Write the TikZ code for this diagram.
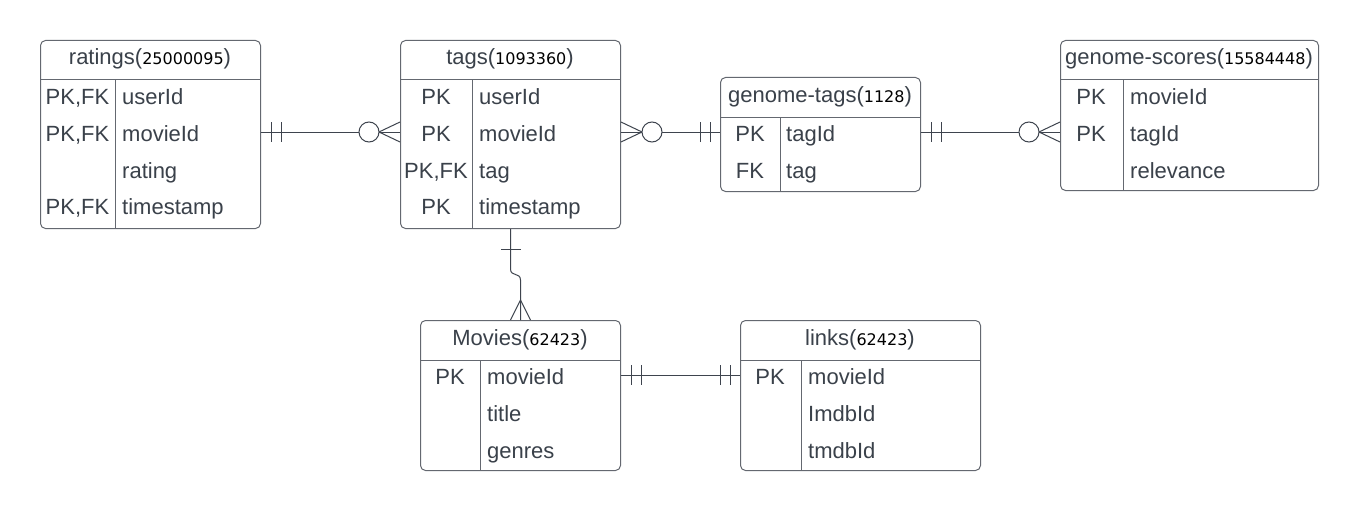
\documentclass[tikz,border=0pt]{standalone}
\usepackage{fontspec}
\setmainfont{Liberation Sans}
\newfontfamily\numfont{DejaVu Sans}
\usetikzlibrary{calc}
\definecolor{txt}{RGB}{58,65,74}
\definecolor{boxc}{RGB}{100,104,112}
\definecolor{linec}{RGB}{62,68,78}
\newcommand\cnt[1]{{\numfont\fontsize{16}{18}\selectfont\color{black}#1}}
\begin{document}
\begin{tikzpicture}[x=1pt,y=-1pt,
  tbl/.style={draw=boxc, line width=1pt, rounded corners=5pt, inner sep=0pt, anchor=north west, fill=white},
  sep/.style={draw=boxc, line width=1pt},
  hdr/.style={inner sep=0pt, anchor=base, text=txt, font=\fontsize{22}{26}\selectfont},
  key/.style={hdr},
  fld/.style={hdr, anchor=base west},
  conn/.style={draw=linec, line width=1pt},
  mandone/.pic={\draw[conn] (10,-10) -- (10,10); \draw[conn] (20,-10) -- (20,10);},
  onlyone/.pic={\draw[conn] (20,-10) -- (20,10);},
  many/.pic={\draw[conn] (0,-10) -- (20,0) -- (0,10); \draw[conn] (0,0) -- (20,0);},
  zeromany/.pic={\draw[conn] (0,-10) -- (21,0) -- (0,10); \draw[conn] (0,0) -- (21,0);
                 \draw[conn, fill=white] (31,0) circle[radius=10pt];},
]
\useasboundingbox[fill=white] (0,0) rectangle (1360,511);

% ratings
\node[tbl, minimum width=220pt, minimum height=188pt] (ratings) at (40,40) {};
\draw[sep] (40,80) -- (260,80);
\draw[sep] (115,80) -- (115,228);
\node[hdr] (ratingsT) at (150,65) {ratings(\cnt{25000095})};
\node[key] (r1k) at (77.5,104) {PK,FK};
\node[fld] (r1f) at (122,104) {userId};
\node[key] (r2k) at (77.5,141) {PK,FK};
\node[fld] (r2f) at (122,141) {movieId};
\node[fld] (r3f) at (122,178) {rating};
\node[key] (r4k) at (77.5,214) {PK,FK};
\node[fld] (r4f) at (122,214) {timestamp};

% tags
\node[tbl, minimum width=220pt, minimum height=188pt] (tags) at (400,40) {};
\draw[sep] (400,80) -- (620,80);
\draw[sep] (472,80) -- (472,228);
\node[hdr] (tagsT) at (510,65) {tags(\cnt{1093360})};
\node[key] (t1k) at (436,104) {PK};
\node[fld] (t1f) at (479,104) {userId};
\node[key] (t2k) at (436,141) {PK};
\node[fld] (t2f) at (479,141) {movieId};
\node[key] (t3k) at (436,178) {PK,FK};
\node[fld] (t3f) at (479,178) {tag};
\node[key] (t4k) at (436,214) {PK};
\node[fld] (t4f) at (479,214) {timestamp};

% genome-tags
\node[tbl, minimum width=200pt, minimum height=114pt] (gtags) at (720,77) {};
\draw[sep] (720,117) -- (920,117);
\draw[sep] (780,117) -- (780,191);
\node[hdr] (gtagsT) at (820,102) {genome-tags(\cnt{1128})};
\node[key] (g1k) at (750,141) {PK};
\node[fld] (g1f) at (786,141) {tagId};
\node[key] (g2k) at (750,178) {FK};
\node[fld] (g2f) at (786,178) {tag};

% genome-scores
\node[tbl, minimum width=258pt, minimum height=150pt] (gscores) at (1060,40) {};
\draw[sep] (1060,80) -- (1318,80);
\draw[sep] (1123,80) -- (1123,190);
\node[hdr] (gscoresT) at (1189,65) {genome-scores(\cnt{15584448})};
\node[key] (s1k) at (1091,104) {PK};
\node[fld] (s1f) at (1130,104) {movieId};
\node[key] (s2k) at (1091,141) {PK};
\node[fld] (s2f) at (1130,141) {tagId};
\node[fld] (s3f) at (1130,178) {relevance};

% Movies
\node[tbl, minimum width=200pt, minimum height=150pt] (movies) at (420,320) {};
\draw[sep] (420,360) -- (620,360);
\draw[sep] (480,360) -- (480,470);
\node[hdr] (moviesT) at (520,345) {Movies(\cnt{62423})};
\node[key] (m1k) at (450,384) {PK};
\node[fld] (m1f) at (487,384) {movieId};
\node[fld] (m2f) at (487,421) {title};
\node[fld] (m3f) at (487,458) {genres};

% links
\node[tbl, minimum width=240pt, minimum height=150pt] (links) at (740,320) {};
\draw[sep] (740,360) -- (980,360);
\draw[sep] (801,360) -- (801,470);
\node[hdr] (linksT) at (860,345) {links(\cnt{62423})};
\node[key] (l1k) at (770,384) {PK};
\node[fld] (l1f) at (808,384) {movieId};
\node[fld] (l2f) at (808,421) {ImdbId};
\node[fld] (l3f) at (808,458) {tmdbId};

% connectors
\draw[conn] (ratings.east |- 0,132) -- (tags.west |- 0,132);
\draw[conn] (tags.east |- 0,132) -- (gtags.west |- 0,132);
\draw[conn] (gtags.east |- 0,132) -- (gscores.west |- 0,132);
\draw[conn] (movies.east |- 0,375) -- (links.west |- 0,375);
\draw[conn] (tags.south) -- ++(0,40) .. controls +(0,8) and +(0,-8) .. ($(movies.north)+(0,-40)$) -- (movies.north);

% end markers
\pic at (ratings.east |- 0,132) {mandone};
\pic[rotate=180] at (tags.west |- 0,132) {zeromany};
\pic at (tags.east |- 0,132) {zeromany};
\pic[rotate=180] at (gtags.west |- 0,132) {mandone};
\pic at (gtags.east |- 0,132) {mandone};
\pic[rotate=180] at (gscores.west |- 0,132) {zeromany};
\pic at (movies.east |- 0,375) {mandone};
\pic[rotate=180] at (links.west |- 0,375) {mandone};
\pic[rotate=-90] at (tags.south) {onlyone};
\pic[rotate=90] at (movies.north) {many};
\end{tikzpicture}
\end{document}
